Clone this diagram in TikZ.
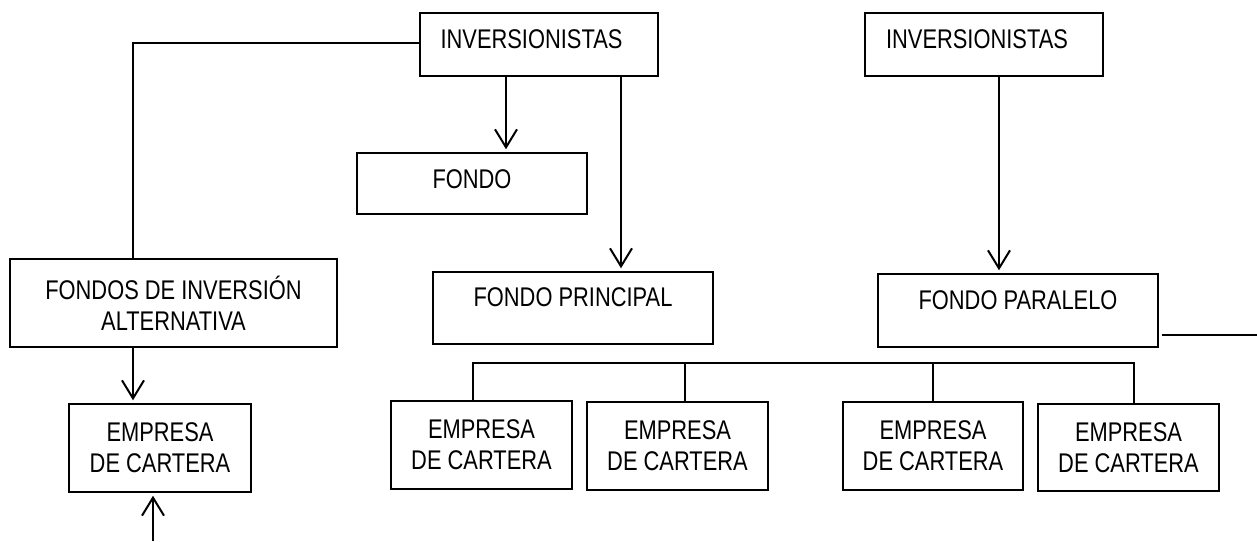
\documentclass[tikz,border=0pt]{standalone}
\usepackage{fontspec}
\setmainfont{Liberation Sans}[FakeStretch=0.81]
\usetikzlibrary{arrows.meta}
\begin{document}
\begin{tikzpicture}[x=1pt,y=-1pt,
  box/.style={draw=black,line width=1.5pt,rectangle,inner sep=0pt,align=center,
    font=\fontsize{27}{31}\selectfont},
  up/.style={text height=19.3pt,text depth=#1},
  conn/.style={draw=black,line width=2.2pt},
  arr/.style={conn,-{Straight Barb[length=18pt,width=22pt,line width=2pt]},shorten >=3pt}]
\useasboundingbox (0,0) rectangle (1257,541);
% boxes
\node[box,up=12pt,minimum width=238pt,minimum height=63pt] (inv1) at (539,44.5) {INVERSIONISTAS\hspace*{15pt}};
\node[box,up=12pt,minimum width=238pt,minimum height=63pt] (inv2) at (984,44.5) {INVERSIONISTAS\hspace*{14pt}};
\node[box,up=10pt,minimum width=230pt,minimum height=61pt] (fondo) at (472,183.5) {FONDO};
\node[box,up=22pt,minimum width=280pt,minimum height=72pt] (fpr) at (573,308) {FONDO PRINCIPAL};
\node[box,up=22pt,minimum width=280pt,minimum height=73pt] (fpa) at (1018,310.5) {FONDO PARALELO};
\node[box,minimum width=327pt,minimum height=88pt] (fia) at (173.5,303) {FONDOS DE INVERSIÓN\\ALTERNATIVA};
\node[box,minimum width=182pt,minimum height=88pt] (emp0) at (160,448) {EMPRESA\\DE CARTERA};
\node[box,minimum width=181pt,minimum height=88pt] (emp1) at (481.5,445) {EMPRESA\\DE CARTERA};
\node[box,minimum width=181pt,minimum height=88pt] (emp2) at (677.5,446) {EMPRESA\\DE CARTERA};
\node[box,minimum width=180pt,minimum height=88pt] (emp3) at (933,446) {EMPRESA\\DE CARTERA};
\node[box,minimum width=181pt,minimum height=87pt] (emp4) at (1128.5,447.5) {EMPRESA\\DE CARTERA};
% helper coordinates
\coordinate (c1) at (133,43);
\coordinate (a1) at (506,0);
\coordinate (a2) at (621,0);
\coordinate (a3) at (999,0);
\coordinate (bot) at (153,541);
\coordinate (rt) at (1257,335);
\coordinate (bus) at (0,363);
\coordinate (d1) at (473,0);
\coordinate (d2) at (685,0);
\coordinate (d3) at (933,0);
\coordinate (d4) at (1134,0);
% connectors
\draw[conn] (inv1.west |- c1) -| (fia.north -| c1);
\draw[arr] (inv1.south -| a1) -- (fondo.north -| a1);
\draw[arr] (inv1.south -| a2) -- (fpr.north -| a2);
\draw[arr] (inv2.south -| a3) -- (fpa.north -| a3);
\draw[arr] (fia.south -| c1) -- (emp0.north -| c1);
\draw[arr] (bot) -- (emp0.south -| bot);
\draw[conn,shorten <=3pt] (fpa.east |- rt) -- (rt);
\draw[conn] (emp1.north -| d1) |- (bus -| d4) -- (emp4.north -| d4);
\draw[conn] (bus -| d2) -- (emp2.north -| d2);
\draw[conn] (bus -| d3) -- (emp3.north -| d3);
\end{tikzpicture}
\end{document}
